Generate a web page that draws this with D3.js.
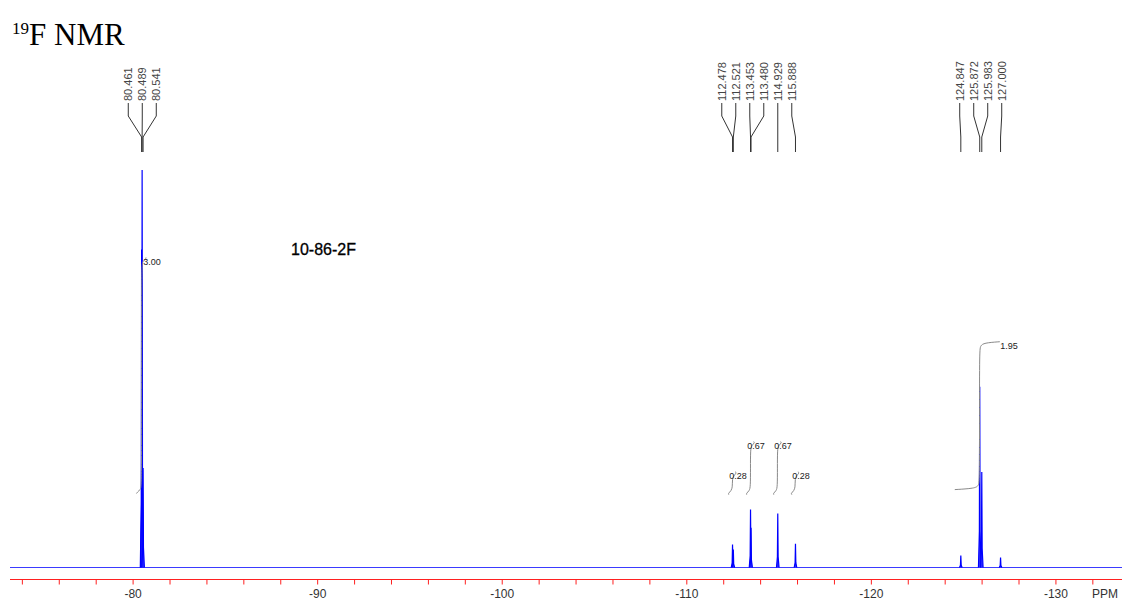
<!DOCTYPE html>
<html>
<head>
<meta charset="utf-8">
<script src="https://cdn.jsdelivr.net/npm/d3@7"></script>
<style>
  body { margin: 0; background: #fff; }
  svg { display: block; }
</style>
</head>
<body>
<script>
// peak list (ppm, relative height)
const peakPpm = [-80.461, -80.489, -80.541, -112.478, -112.521, -113.453, -113.480,
                 -114.929, -115.888, -124.847, -125.872, -125.983, -127.000];
const peakHeight = [80, 100, 25, 5.8, 4.5, 14.6, 10, 13.6, 6.0, 3.0, 45.5, 24, 2.5];

// integrals: start / centre / end in ppm, curve low / high level, value
const integralStart = [-80.18, -112.28, -113.25, -114.72, -115.70, -124.52];
const integralCenter = [-80.46, -112.47, -113.45, -114.91, -115.87, -125.86];
const integralEnd = [-80.70, -112.62, -113.62, -115.08, -116.02, -126.96];
const integralLow = [18.6, 18.3, 18.3, 18.3, 18.3, 19.6];
const integralHigh = [78.0, 24.1, 31.7, 31.7, 24.1, 56.8];
const integralValue = ["3.00", "0.28", "0.67", "0.67", "0.28", "1.95"];
const integralLabelPpm = [-80.55, -112.30, -113.28, -114.74, -115.72, -126.98];

const majorTicks = [-80, -90, -100, -110, -120, -130];
const sampleName = "10-86-2F";

const svgWidth = 1122;
const svgHeight = 603;

const x = d3.scaleLinear().domain([-73.33, -133.58]).range([10, 1122]);
const y = d3.scaleLinear().domain([0, 100]).range([567.5, 170]);
const axisY = 579.5;

const svg = d3.select("body").append("svg")
    .attr("width", svgWidth)
    .attr("height", svgHeight);

// title
const title = svg.append("text")
    .attr("x", 12)
    .attr("y", 45)
    .style("font-family", "'Liberation Serif', 'Times New Roman', serif")
    .attr("fill", "#000");
title.append("tspan").text("19").style("font-size", "17px").attr("dy", -11);
title.append("tspan").text("F NMR").style("font-size", "31px").attr("dy", 11);

// sample name
svg.append("text")
    .attr("x", 291)
    .attr("y", 255)
    .style("font-family", "Arial, 'Liberation Sans', sans-serif")
    .style("font-size", "16px")
    .style("font-weight", "500")
    .attr("fill", "#000")
    .attr("stroke", "#000")
    .attr("stroke-width", 0.3)
    .text(sampleName);

// baseline
svg.append("line")
    .attr("x1", x.range()[0]).attr("x2", x.range()[1])
    .attr("y1", y(0)).attr("y2", y(0))
    .attr("stroke", "#3b3bff")
    .attr("stroke-width", 1.2);

// peaks as narrow spikes
const peaks = peakPpm.map((p, i) => ({ppm: p, h: peakHeight[i]}));
const spike = d3.line().x(d => x(d[0])).y(d => y(d[1]));
svg.append("g")
    .selectAll("path")
    .data(peaks)
    .join("path")
    .attr("d", d => spike([[d.ppm + 0.07, 0], [d.ppm + 0.02, d.h * 0.2], [d.ppm, d.h], [d.ppm - 0.02, d.h * 0.2], [d.ppm - 0.07, 0]]))
    .attr("fill", "#3030ff")
    .attr("stroke", "#0000ff")
    .attr("stroke-width", 1.2);

// integral curves
const integrals = integralValue.map((v, i) => ({
    start: integralStart[i], center: integralCenter[i], end: integralEnd[i],
    low: integralLow[i], high: integralHigh[i], value: v, labelPpm: integralLabelPpm[i]
}));
const integralLine = d3.line()
    .x(d => x(d[0]))
    .y(d => y(d[1]))
    .curve(d3.curveBasis);
svg.append("g")
    .selectAll("path")
    .data(integrals)
    .join("path")
    .attr("d", d => {
        const dx = 0.06;
        const span = d.high - d.low;
        return integralLine([
            [d.start, d.low], [d.center + 4 * dx, d.low + 0.3], [d.center + dx, d.low + 1],
            [d.center, d.low + 2], [d.center, d.low + span * 0.5], [d.center, d.high - 2],
            [d.center - dx, d.high - 1], [d.center - 4 * dx, d.high - 0.3], [d.end, d.high]
        ]);
    })
    .attr("fill", "none")
    .attr("stroke", "#8a8a8a")
    .attr("stroke-width", 1);

svg.append("g")
    .selectAll("text")
    .data(integrals)
    .join("text")
    .attr("x", d => x(d.labelPpm))
    .attr("y", d => y(d.high) + 4)
    .attr("dy", "0.35em")
    .style("font-family", "Arial, 'Liberation Sans', sans-serif")
    .style("font-size", "9px")
    .attr("fill", "#222")
    .text(d => d.value);

// peak labels: cluster peaks and spread labels out evenly
const labelSpacing = 14;
const clusters = [];
peaks.forEach(p => {
    const last = clusters[clusters.length - 1];
    if (last && Math.abs(x(p.ppm) - x(last[last.length - 1].ppm)) < 40) last.push(p);
    else clusters.push([p]);
});
const labelled = [];
clusters.forEach(c => {
    const mean = d3.mean(c, p => x(p.ppm));
    c.forEach((p, i) => labelled.push({
        ppm: p.ppm,
        lx: mean + (i - (c.length - 1) / 2) * labelSpacing
    }));
});

const fmt = d3.format(".3f");
const labelG = svg.append("g");
labelG.selectAll("text")
    .data(labelled)
    .join("text")
    .attr("transform", d => `translate(${d.lx},101) rotate(-90)`)
    .attr("dy", "0.36em")
    .style("font-family", "Arial, 'Liberation Sans', sans-serif")
    .style("font-size", "11px")
    .attr("fill", "#444")
    .text(d => fmt(-d.ppm));

labelG.selectAll("path")
    .data(labelled)
    .join("path")
    .attr("d", d => `M${d.lx},103 L${d.lx},116 L${x(d.ppm)},137 L${x(d.ppm)},152`)
    .attr("fill", "none")
    .attr("stroke", "#333")
    .attr("stroke-width", 1);

// x axis
const axisG = svg.append("g");
axisG.append("line")
    .attr("x1", x.range()[0]).attr("x2", x.range()[1])
    .attr("y1", axisY).attr("y2", axisY)
    .attr("stroke", "#ff2020")
    .attr("stroke-width", 1.2);

const minorTicks = d3.range(-74, -133, -2);
axisG.selectAll("line.tick")
    .data(minorTicks)
    .join("line")
    .attr("class", "tick")
    .attr("x1", d => x(d)).attr("x2", d => x(d))
    .attr("y1", axisY).attr("y2", axisY + 5)
    .attr("stroke", "#ff2020")
    .attr("stroke-width", 1);

axisG.selectAll("text.lab")
    .data(majorTicks)
    .join("text")
    .attr("class", "lab")
    .attr("x", d => x(d))
    .attr("y", 598)
    .attr("text-anchor", "middle")
    .style("font-family", "Arial, 'Liberation Sans', sans-serif")
    .style("font-size", "12px")
    .attr("fill", "#333")
    .text(d => d);

axisG.append("text")
    .attr("x", 1118)
    .attr("y", 598)
    .attr("text-anchor", "end")
    .style("font-family", "Arial, 'Liberation Sans', sans-serif")
    .style("font-size", "12px")
    .attr("fill", "#333")
    .text("PPM");
</script>
</body>
</html>
